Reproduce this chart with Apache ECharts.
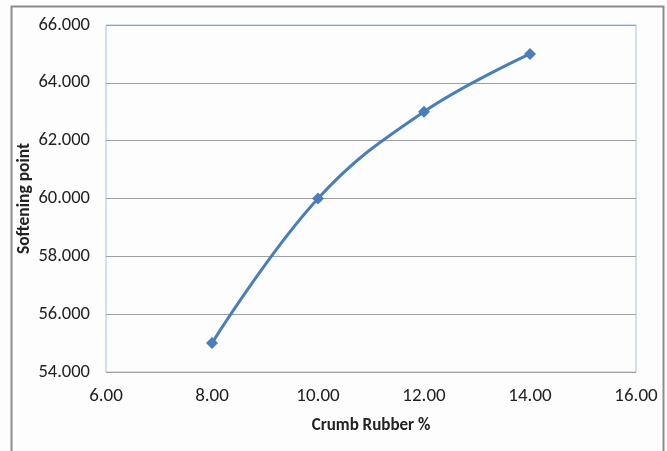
<!DOCTYPE html>
<html><head><meta charset="utf-8">
<script src="https://cdn.jsdelivr.net/npm/echarts@6/dist/echarts.min.js"></script>
<style>html,body{margin:0;padding:0;background:#fff}#c{width:667px;height:451px}</style>
</head><body><div id="c"></div>
<script>
const crumbRubber = [8, 10, 12, 14];
const softeningPoint = [55, 60, 63, 65];
const xTitle = 'Crumb Rubber %';
const yTitle = 'Softening point';

const chart = echarts.init(document.getElementById('c'));
const font = 'Calibri, Carlito, Lato, "Open Sans", sans-serif';
chart.setOption({
  animation: false,
  backgroundColor: '#fdfdfd',
  graphic: [{
    type: 'rect', shape: {x: 11.5, y: 6.5, width: 652, height: 460},
    style: {fill: 'none', stroke: '#8c8c8c', lineWidth: 2}, silent: true
  }],
  grid: {left: 106, top: 25, right: 31, bottom: 79, show: true, borderColor: '#a6bfe4', borderWidth: 1, backgroundColor: 'transparent'},
  xAxis: {
    type: 'value', min: 6, max: 16, interval: 2,
    name: xTitle, nameLocation: 'middle', nameGap: 45, nameMoveOverlap: false,
    nameTextStyle: {fontFamily: font, fontSize: 17, fontWeight: 'bold', color: '#222'},
    axisLine: {show: false}, axisTick: {show: false},
    splitLine: {show: false},
    axisLabel: {formatter: v => v.toFixed(2), fontFamily: font, fontSize: 19, color: '#222', margin: 15}
  },
  yAxis: {
    type: 'value', min: 54, max: 66, interval: 2,
    name: yTitle, nameLocation: 'middle', nameGap: 72, nameMoveOverlap: false,
    nameTextStyle: {fontFamily: font, fontSize: 17.5, fontWeight: 'bold', color: '#222'},
    axisLine: {show: false}, axisTick: {show: false},
    splitLine: {lineStyle: {color: '#a0a0a0', width: 1}},
    axisLabel: {formatter: v => v.toFixed(3), fontFamily: font, fontSize: 18.5, color: '#222', margin: 16}
  },
  series: [{
    type: 'line', smooth: 0.4,
    data: crumbRubber.map((x, i) => [x, softeningPoint[i]]),
    symbol: 'diamond', symbolSize: 12,
    lineStyle: {color: '#4a7ebb', width: 3},
    itemStyle: {color: '#4a7ebb'}
  }]
});
</script></body></html>
